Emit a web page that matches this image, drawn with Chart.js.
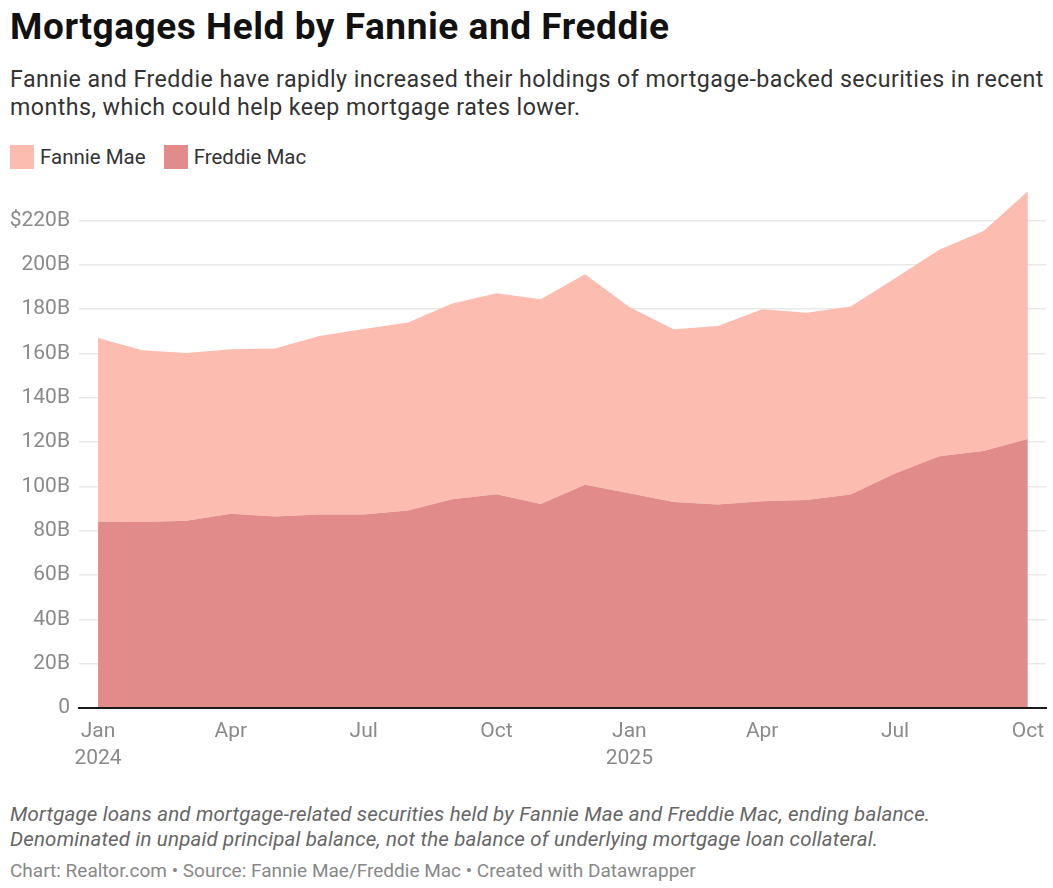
<!DOCTYPE html>
<html>
<head>
<meta charset="utf-8">
<script src="https://cdn.jsdelivr.net/npm/chart.js@4"></script>
<style>
  html, body { margin:0; padding:0; background:#fff; }
  body { width:1053px; height:888px; position:relative; font-family: Roboto, "Noto Sans", sans-serif; overflow:hidden; }
  .abs { position:absolute; left:10px; white-space:nowrap; }
  #title { top:5px; font-size:37px; line-height:44px; font-weight:700; color:#111; letter-spacing:0.55px; }
  #sub { top:65px; font-size:23.2px; line-height:28px; color:#333; letter-spacing:0.45px; }
  #legend { top:145px; display:flex; align-items:center; font-size:20.5px; color:#333; }
  .sw { width:24px; height:24px; display:inline-block; margin-right:6px; }
  .item { display:flex; align-items:center; margin-right:18px; }
  #wrap { position:absolute; left:0; top:180px; width:1053px; height:600px; }
  #note { top:802px; font-size:20.5px; line-height:25px; font-style:italic; color:#666; letter-spacing:0.18px; }
  #src { top:860px; font-size:19px; line-height:22px; color:#888; }
</style>
</head>
<body>
<div id="title" class="abs">Mortgages Held by Fannie and Freddie</div>
<div id="sub" class="abs">Fannie and Freddie have rapidly increased their holdings of mortgage-backed securities in recent<br>months, which could help keep mortgage rates lower.</div>
<div id="legend" class="abs">
  <span class="item"><span class="sw" style="background:#fdbcb0"></span>Fannie Mae</span>
  <span class="item"><span class="sw" style="background:#e18b8a"></span>Freddie Mac</span>
</div>
<div id="wrap"><canvas id="c"></canvas></div>
<div id="note" class="abs">Mortgage loans and mortgage-related securities held by Fannie Mae and Freddie Mac, ending balance.<br>Denominated in unpaid principal balance, not the balance of underlying mortgage loan collateral.</div>
<div id="src" class="abs">Chart: Realtor.com • Source: Fannie Mae/Freddie Mac • Created with Datawrapper</div>
<script>
// Months Jan 2024 .. Oct 2025 (billions of USD)
const months = ['2024-01','2024-02','2024-03','2024-04','2024-05','2024-06','2024-07','2024-08','2024-09','2024-10','2024-11','2024-12',
                '2025-01','2025-02','2025-03','2025-04','2025-05','2025-06','2025-07','2025-08','2025-09','2025-10'];
const freddieMac = [84.0, 83.9, 84.5, 87.6, 86.4, 87.3, 87.3, 89.1, 94.2, 96.5, 92.1, 100.7,
                    96.9, 93.0, 91.8, 93.3, 93.9, 96.3, 105.8, 113.6, 116.0, 121.4];
const fannieMae  = [83.0, 77.5, 75.7, 74.3, 75.8, 80.6, 83.7, 84.8, 88.3, 90.7, 92.4, 95.0,
                    84.0, 77.9, 80.6, 86.6, 84.5, 84.9, 88.1, 93.2, 99.2, 111.8];
const xTickIndex = [0, 3, 6, 9, 12, 15, 18, 21];
const xTickLabels = [['Jan','2024'], 'Apr', 'Jul', 'Oct', ['Jan','2025'], 'Apr', 'Jul', 'Oct'];
const yTickValues = [0, 20, 40, 60, 80, 100, 120, 140, 160, 180, 200, 220];
const yTickLabels = ['0', '20B', '40B', '60B', '80B', '100B', '120B', '140B', '160B', '180B', '200B', '$220B'];

const toPts = arr => arr.map((v, i) => ({x: i, y: v}));

new Chart(document.getElementById('c'), {
  type: 'line',
  data: {
    datasets: [
      { label: 'Freddie Mac', data: toPts(freddieMac), backgroundColor: '#e18b8a', borderWidth: 0, pointRadius: 0, fill: 'origin', tension: 0 },
      { label: 'Fannie Mae', data: toPts(fannieMae), backgroundColor: '#fdbcb0', borderWidth: 0, pointRadius: 0, fill: '-1', tension: 0 }
    ]
  },
  options: {
    responsive: true,
    maintainAspectRatio: false,
    animation: false,
    layout: { padding: { top: 5, right: 7, left: 0, bottom: 0 } },
    plugins: { legend: { display: false }, tooltip: { enabled: false } },
    scales: {
      x: {
        type: 'linear',
        min: -0.43, max: 21.41,
        grid: { display: false },
        border: { display: true, color: '#1a1a1a', width: 2, z: 2 },
        afterBuildTicks: s => { s.ticks = xTickIndex.map(v => ({ value: v })); },
        afterFit: s => { s.height = 72; },
        ticks: {
          padding: 2,
          maxRotation: 0,
          autoSkip: false,
          color: '#8a8a8a',
          font: { family: 'Roboto', size: 21, lineHeight: '27px' },
          callback: (v) => { const k = xTickIndex.indexOf(v); return k >= 0 ? xTickLabels[k] : ''; }
        }
      },
      y: {
        stacked: true,
        min: 0, max: 236,
        z: 1,
        border: { display: false },
        grid: {
          color: ctx => ctx.tick && ctx.tick.value === 0 ? 'rgba(0,0,0,0)' : 'rgba(0,0,0,0.09)',
          lineWidth: 1.5,
          drawTicks: false
        },
        afterBuildTicks: s => { s.ticks = yTickValues.map(v => ({ value: v })); },
        afterFit: s => { s.width = 79; s.paddingTop = 0; s.paddingBottom = 0; },
        ticks: {
          padding: 9,
          color: '#8a8a8a',
          font: { family: 'Roboto', size: 21 },
          callback: (v) => { const k = yTickValues.indexOf(v); return k >= 0 ? yTickLabels[k] : ''; }
        }
      }
    }
  }
});
</script>
</body>
</html>
